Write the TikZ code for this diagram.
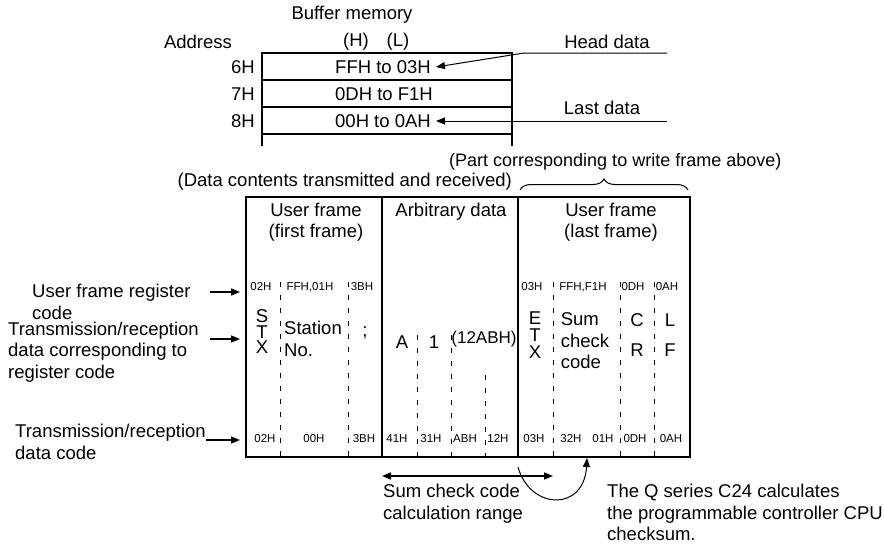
\documentclass[tikz,border=0pt]{standalone}
\usepackage{fontspec}
\setmainfont{Liberation Sans}
\usetikzlibrary{arrows.meta,decorations.pathreplacing}
\tikzset{
  txt/.style={inner sep=0pt, font=\fontsize{18.5}{21.5}\selectfont},
  hex/.style={inner sep=0pt, anchor=base, font=\fontsize{11.5}{12}\selectfont},
  arr/.style={line width=1.5pt, -{Triangle[length=9pt,width=7pt]}},
  darr/.style={line width=1.5pt, {Triangle[length=9pt,width=7pt]}-{Triangle[length=9pt,width=7pt]}},
  thin arr/.style={line width=1pt, -{Triangle[length=9pt,width=7pt]}},
  framebox/.style={line width=2pt},
  bufline/.style={line width=1.5pt},
  dline/.style={line width=0.9pt, dash pattern=on 5pt off 8pt},
}
\begin{document}
\begin{tikzpicture}[x=1pt,y=-1pt]
\useasboundingbox (0,0) rectangle (884,550);

% ---------- Buffer memory ----------
\node[txt] (bm) at (352,15) {Buffer memory};
\node[txt] (addr) at (198,42) {Address};
\node[txt] (hh) at (356,42) {(H)};
\node[txt] (ll) at (398,42) {(L)};
\node[txt] (a6) at (243,67) {6H};
\node[txt] (a7) at (243,94) {7H};
\node[txt] (a8) at (243,121) {8H};
\node[txt] (r6) at (383,67) {FFH to 03H};
\node[txt] (r7) at (384,94) {0DH to F1H};
\node[txt] (r8) at (383,121) {00H to 0AH};
\draw[bufline] (262,146) -- (262,53) -- (512,53) -- (512,146);
\draw[bufline] (262,80) -- (512,80);
\draw[bufline] (262,107) -- (512,107);
\draw[bufline] (262,134) -- (512,134);

\node[txt] (head) at (607,42) {Head data};
\node[txt] (last) at (602,108) {Last data};
\coordinate (hs) at (667,53);
\coordinate (hb) at (524,53);
\coordinate (ht) at (436,67);
\coordinate (ls) at (667,121);
\coordinate (lt) at (436,121);
\draw[thin arr] (hs) -- (hb) -- (ht);
\draw[thin arr] (ls) -- (lt);

% ---------- Frame ----------
\node[txt, anchor=west, font=\fontsize{18}{21}\selectfont] (part) at (449,162) {(Part corresponding to write frame above)};
\node[txt, anchor=east] (datac) at (512,182) {(Data contents transmitted and received)};
\draw[line width=1pt, decorate, decoration={brace, amplitude=11pt}] (520,190) -- (688,190);

\draw[framebox] (246,197) rectangle (690,457);
\draw[framebox] (382,197) -- (382,457);
\draw[framebox] (518,197) -- (518,457);

\node[txt, align=center] (uf1) at (316,222) {User frame\\(first frame)};
\node[txt] (arb) at (451,212) {Arbitrary data};
\node[txt, align=center] (uf2) at (611,222) {User frame\\(last frame)};

% dashed separators
\foreach \x in {280,348,553,620,654} \draw[dline] (\x,282) -- (\x,457);
\foreach \x in {417,451} \draw[dline] (\x,335) -- (\x,457);
\draw[dline] (485,375) -- (485,457);

% top hex row
\node[hex] (t1) at (261,290) {02H};
\node[hex] (t2) at (310,290) {FFH,01H};
\node[hex] (t3) at (362,290) {3BH};
\node[hex] (t4) at (532,290) {03H};
\node[hex] (t5) at (583,290) {FFH,F1H};
\node[hex] (t6) at (633,290) {0DH};
\node[hex] (t7) at (667,290) {0AH};

% middle characters
\node[txt, align=center, font=\fontsize{18.5}{15.5}\selectfont] (stx) at (262,332) {S\\T\\X};
\node[txt, align=left] (stn) at (313,339) {Station\\No.};
\node[txt] (semi) at (365,333) {;};
\node[txt] (ca) at (402,342) {A};
\node[txt] (c1) at (434,342) {1};
\node[txt, font=\fontsize{17}{20}\selectfont] (c12) at (484,339) {(12ABH)};
\node[txt, align=center, font=\fontsize{18.5}{17}\selectfont] (etx) at (535,335) {E\\T\\X};
\node[txt, align=left] (sum) at (585,341) {Sum\\check\\code};
\node[txt] (cc) at (637,320) {C};
\node[txt] (cr) at (637,350) {R};
\node[txt] (cl) at (670,320) {L};
\node[txt] (cf) at (670,350) {F};

% bottom hex row
\node[hex] (b1) at (265,442) {02H};
\node[hex] (b2) at (314,442) {00H};
\node[hex] (b3) at (364,442) {3BH};
\node[hex] (b4) at (397,442) {41H};
\node[hex] (b5) at (431,442) {31H};
\node[hex] (b6) at (465,442) {ABH};
\node[hex] (b7) at (498,442) {12H};
\node[hex] (b8) at (534,442) {03H};
\node[hex] (b9) at (571,442) {32H};
\node[hex] (b10) at (603,442) {01H};
\node[hex] (b11) at (635,442) {0DH};
\node[hex] (b12) at (671,442) {0AH};

% ---------- Left labels ----------
\node[txt, align=left, anchor=west] (lab1) at (32,302) {User frame register\\code};
\node[txt, align=left, anchor=west] (lab2) at (8,352) {Transmission/reception\\data corresponding to\\register code};
\node[txt, align=left, anchor=west] (lab3) at (15,442) {Transmission/reception\\data code};
\coordinate (a1s) at (210,292);
\coordinate (a1e) at (240,292);
\coordinate (a2s) at (210,339);
\coordinate (a2e) at (240,339);
\coordinate (a3s) at (206,440);
\coordinate (a3e) at (240,440);
\draw[arr] (a1s) -- (a1e);
\draw[arr] (a2s) -- (a2e);
\draw[arr] (a3s) -- (a3e);

% ---------- Bottom ----------
\coordinate (rl) at (382,476);
\coordinate (rr) at (553,476);
\draw[darr] (rl) -- (rr);
\coordinate (cs) at (518,467);
\coordinate (ce) at (587,458);
\draw[thin arr] (cs) .. controls (530,510) and (584,512) .. (ce);
\node[txt, align=left, anchor=north west] (range) at (383,484) {Sum check code\\calculation range};
\node[txt, align=left, anchor=north west] (qs) at (607,484) {The Q series C24 calculates\\the programmable controller CPU\\checksum.};
\end{tikzpicture}
\end{document}
